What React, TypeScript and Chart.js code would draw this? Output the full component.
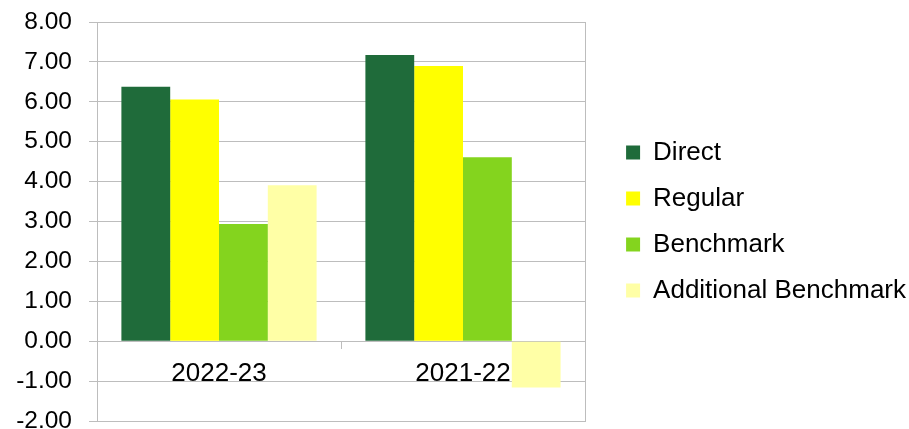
import React, { useEffect, useRef } from "react";
import { Chart, registerables } from "chart.js";

Chart.register(...registerables);

// ---- data ----
const categories = ["2022-23", "2021-22"];
const seriesNames = ["Direct", "Regular", "Benchmark", "Additional Benchmark"];
const directValues = [6.38, 7.17];
const regularValues = [6.06, 6.9];
const benchmarkValues = [2.94, 4.61];
const additionalBenchmarkValues = [3.91, -1.16];
const yTickValues = [-2, -1, 0, 1, 2, 3, 4, 5, 6, 7, 8];

const seriesColors = ["#1F6B3A", "#FFFF00", "#84D41E", "#FFFFA6"];

const FONT = "'Liberation Sans', Arial, sans-serif";
const GRID = "#BDBDBD";
const W = 909;
const H = 429;
const PLOT_LEFT = 97;
const PLOT_RIGHT = 585;
const RIGHT_PAD = -7;

export default function App() {
  const ref = useRef<HTMLCanvasElement>(null);

  useEffect(() => {
    if (!ref.current) return;
    const values = [directValues, regularValues, benchmarkValues, additionalBenchmarkValues];
    const chart = new Chart(ref.current, {
      type: "bar",
      data: {
        labels: categories,
        datasets: seriesNames.map((name, i) => ({
          label: name,
          data: values[i],
          backgroundColor: seriesColors[i],
          borderWidth: 0,
          categoryPercentage: 0.8,
          barPercentage: 1.0,
        })),
      },
      options: {
        animation: false,
        responsive: false,
        layout: { padding: { top: 22, bottom: 8, left: 0, right: RIGHT_PAD } },
        plugins: {
          tooltip: { enabled: false },
          legend: {
            position: "right",
            align: "center",
            maxWidth: 400,
            labels: {
              boxWidth: 14,
              boxHeight: 14,
              padding: 20,
              color: "#000",
              font: { size: 26, family: FONT },
            },
          },
        },
        scales: {
          x: {
            position: { y: 0 } as any,
            offset: true,
            grid: {
              display: true,
              drawOnChartArea: false,
              drawTicks: true,
              tickLength: 7,
              offset: true,
              color: GRID,
            },
            border: { display: true, color: GRID },
            ticks: {
              color: "#000",
              font: { size: 26, family: FONT },
              padding: 10,
              maxRotation: 0,
              autoSkip: false,
            },
          },
          y: {
            position: "left",
            min: -2,
            max: 8,
            afterBuildTicks: (s: any) => {
              s.ticks = yTickValues.map((v) => ({ value: v }));
            },
            ticks: {
              color: "#000",
              font: { size: 24.5, family: FONT },
              padding: 17,
              callback: (v: any) => Number(v).toFixed(2),
            },
            grid: { color: GRID, tickLength: 8, drawTicks: true },
            border: { display: true, color: GRID },
            afterFit: (s: any) => {
              s.width = PLOT_LEFT;
              s.paddingTop = 0;
              s.paddingBottom = 0;
            },
          },
          y2: {
            position: "right",
            min: -2,
            max: 8,
            ticks: { display: false },
            grid: { drawOnChartArea: false, drawTicks: false },
            border: { display: true, color: GRID },
            afterFit: (s: any) => {
              const lg = s.chart.legend;
              const lw = lg ? lg.width : 0;
              s.width = Math.max(0, W - RIGHT_PAD - lw - PLOT_RIGHT);
              s.paddingTop = 0;
              s.paddingBottom = 0;
            },
          },
        },
      } as any,
    });
    return () => chart.destroy();
  }, []);

  return (
    <div style={{ position: "fixed", left: 0, top: 0, width: W, height: H, background: "#fff" }}>
      <canvas ref={ref} width={W} height={H} style={{ display: "block" }} />
    </div>
  );
}
